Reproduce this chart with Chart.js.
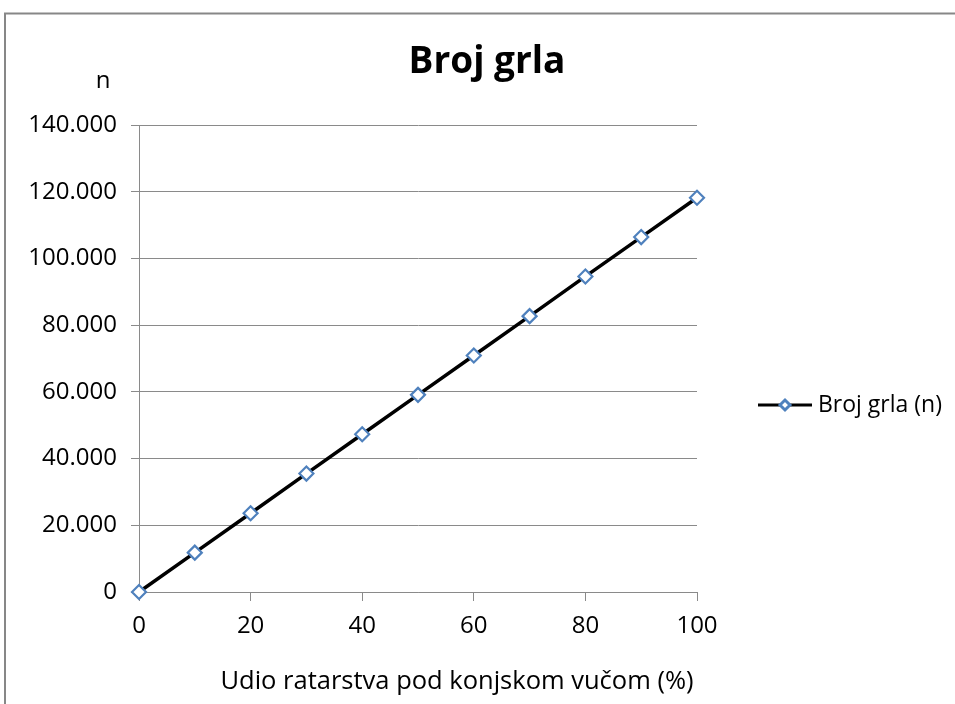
<!DOCTYPE html>
<html>
<head>
<meta charset="utf-8">
<title>Broj grla</title>
<script src="https://cdn.jsdelivr.net/npm/chart.js@4.4.1/dist/chart.umd.min.js"></script>
<style>
  html, body { margin: 0; padding: 0; background: #fff; }
  #wrap { position: relative; width: 955px; height: 704px; }
</style>
</head>
<body>
<div id="wrap"><canvas id="grlaChart" width="955" height="704"></canvas></div>
<script>
// udio ratarstva pod konjskom vucom (%)
const shares = [0, 10, 20, 30, 40, 50, 60, 70, 80, 90, 100];
// broj grla (n)
const heads = [0, 11800, 23600, 35500, 47300, 59100, 70900, 82700, 94600, 106400, 118200];
const xTicks = [0, 20, 40, 60, 80, 100];
const yTicks = [0, 20000, 40000, 60000, 80000, 100000, 120000, 140000];

const chartTitle = 'Broj grla';
const yTitle = 'n';
const xTitle = 'Udio ratarstva pod konjskom vučom (%)';
const seriesLabel = 'Broj grla (n)';

const FONT = '"Open Sans", "Noto Sans", sans-serif';
const gridGray = '#8a8a8a';
const markerBlue = '#4f81bd';

const fmtThousands = (v) => String(v).replace(/\B(?=(\d{3})+(?!\d))/g, '.');

// frame, titles and legend drawn by hand so they sit where the original has them
const decorations = {
  id: 'decorations',
  beforeDraw(chart) {
    const ctx = chart.ctx;
    ctx.save();
    ctx.fillStyle = '#fff';
    ctx.fillRect(0, 0, chart.width, chart.height);
    ctx.strokeStyle = '#878787';
    ctx.lineWidth = 2;
    ctx.strokeRect(5, 13.5, 1000, 1000);
    ctx.restore();
  },
  afterDraw(chart) {
    const ctx = chart.ctx;
    ctx.save();
    ctx.fillStyle = '#000';
    ctx.textBaseline = 'alphabetic';
    ctx.textAlign = 'center';

    ctx.font = 'bold 37px ' + FONT;
    ctx.fillText(chartTitle, 487, 73);

    ctx.font = '24px ' + FONT;
    ctx.fillText(yTitle, 103, 88);
    ctx.font = '25.5px ' + FONT;
    ctx.fillText(xTitle, 457, 689);

    // legend
    const ly = 405;
    ctx.strokeStyle = '#000';
    ctx.lineWidth = 3;
    ctx.beginPath();
    ctx.moveTo(758, ly);
    ctx.lineTo(812, ly);
    ctx.stroke();
    ctx.fillStyle = '#fff';
    ctx.strokeStyle = markerBlue;
    Chart.helpers.drawPoint(ctx, { pointStyle: 'rectRot', radius: 5, borderWidth: 1.2 }, 785, ly);

    ctx.fillStyle = '#000';
    ctx.textAlign = 'left';
    ctx.textBaseline = 'middle';
    ctx.font = '23px ' + FONT;
    ctx.fillText(seriesLabel, 818, ly);
    ctx.restore();
  }
};

new Chart(document.getElementById('grlaChart'), {
  type: 'line',
  data: {
    datasets: [{
      label: seriesLabel,
      data: shares.map((x, i) => ({ x: x, y: heads[i] })),
      borderColor: '#000',
      borderWidth: 3.5,
      tension: 0,
      pointStyle: 'rectRot',
      pointRadius: 7,
      pointBorderColor: markerBlue,
      pointBackgroundColor: '#fff',
      pointBorderWidth: 2.2,
      clip: false
    }]
  },
  options: {
    responsive: false,
    animation: false,
    devicePixelRatio: 1,
    layout: { padding: { left: 7, right: 258, top: 125, bottom: 12 } },
    plugins: {
      legend: { display: false },
      title: { display: false },
      tooltip: { enabled: false }
    },
    scales: {
      x: {
        type: 'linear',
        min: 0,
        max: 100,
        afterBuildTicks: (scale) => { scale.ticks = xTicks.map((v) => ({ value: v })); },
        afterFit: (scale) => { scale.height = 100; },
        ticks: { color: '#000', font: { family: FONT, size: 24 }, padding: 11, maxRotation: 0 },
        grid: { drawOnChartArea: false, drawTicks: true, tickLength: 9, color: gridGray },
        border: { color: gridGray, width: 1 }
      },
      y: {
        min: 0,
        max: 140000,
        afterBuildTicks: (scale) => { scale.ticks = yTicks.map((v) => ({ value: v })); },
        afterFit: (scale) => { scale.width = 132; },
        ticks: {
          color: '#000',
          font: { family: FONT, size: 24 },
          padding: 14,
          callback: (v) => fmtThousands(v)
        },
        grid: { color: gridGray, tickLength: 8 },
        border: { color: gridGray, width: 1 }
      }
    }
  },
  plugins: [decorations]
});
</script>
</body>
</html>
